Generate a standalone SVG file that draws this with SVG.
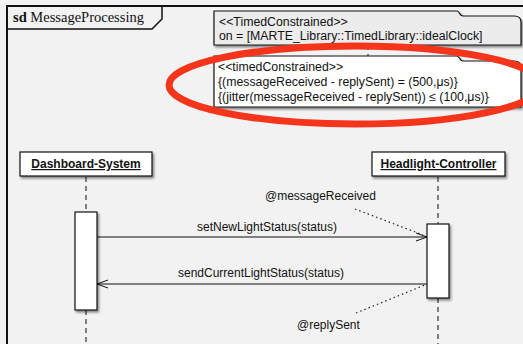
<svg xmlns="http://www.w3.org/2000/svg" width="523" height="344" viewBox="0 0 523 344">
<defs>
<filter id="sh" x="-10%" y="-20%" width="130%" height="160%">
<feDropShadow dx="1.5" dy="2" stdDeviation="1.2" flood-color="#000" flood-opacity="0.45"/>
</filter>
<marker id="open" viewBox="0 0 12 10" refX="11" refY="5" markerWidth="12" markerHeight="10" markerUnits="userSpaceOnUse" orient="auto">
<path d="M0,1 L11,5 L0,9" fill="none" stroke="#111" stroke-width="1"/>
</marker>
</defs>
<style>
text{font-family:"Liberation Sans",Arial,sans-serif;font-size:12px;fill:#111}
.nt{font-size:12.3px}
.hd{font-weight:bold;text-decoration:underline;text-anchor:middle}
.box{fill:#fff;stroke:#111;stroke-width:1.2}
.life{stroke:#333;stroke-width:1.2;stroke-dasharray:5,4;fill:none}
.msg{stroke:#111;stroke-width:1.2;fill:none}
.dot{stroke:#222;stroke-width:1.2;stroke-dasharray:1.5,3;fill:none}
.note{stroke:#111;stroke-width:1.2}
</style>
<rect width="523" height="344" fill="#f2f2f2"/>
<g id="frame">
<path d="M7,344 V6 H523" fill="none" stroke="#111" stroke-width="2"/>
<path d="M7,29 H152 L162,19 V6" fill="none" stroke="#111" stroke-width="1.5"/>
<text x="13" y="22" style="font-family:'Liberation Serif','Times New Roman',serif;font-size:14.5px"><tspan font-weight="bold">sd</tspan> MessageProcessing</text>
</g>
<g id="connectors">
<line class="life" x1="368" y1="45" x2="368" y2="56"/>
<line class="life" x1="86" y1="177" x2="86" y2="212"/>
<line class="life" x1="86" y1="310" x2="86" y2="344"/>
<line class="life" x1="438" y1="177" x2="438" y2="224"/>
<line class="life" x1="438" y1="298" x2="438" y2="344"/>
<line class="msg" x1="97" y1="237" x2="427" y2="237" stroke="#444" marker-end="url(#open)"/>
<line class="msg" x1="427" y1="284" x2="97" y2="284" marker-end="url(#open)"/>
<line class="dot" x1="355" y1="209" x2="423" y2="235"/>
<line class="dot" x1="356" y1="313" x2="425" y2="285"/>
</g>
<g id="note1">
<path class="note" d="M214,11 H457 C460,11 459,16 463,16 H514 C518,16 521,18 521,22 V45 H214 Z" fill="#ececec" filter="url(#sh)"/>
<text class="nt" x="219" y="26">&lt;&lt;TimedConstrained&gt;&gt;</text>
<text class="nt" x="219" y="40">on = [MARTE_Library::TimedLibrary::idealClock]</text>
</g>
<g id="note2">
<path class="note" d="M214,56 H457 C460,56 459,61 463,61 H514 C518,61 521,63 521,67 V107 H214 Z" fill="#fff" filter="url(#sh)"/>
<text class="nt" x="218" y="71">&lt;&lt;timedConstrained&gt;&gt;</text>
<text class="nt" x="218" y="86">{(messageReceived - replySent) = (500,μs)}</text>
<text class="nt" x="218" y="101">{(jitter(messageReceived - replySent)) ≤ (100,μs)}</text>
</g>
<g id="highlight">
<ellipse cx="355" cy="85" rx="186" ry="39" fill="none" stroke="#f5341c" stroke-width="7"/>
</g>
<g id="dashboard">
<rect class="box" x="20" y="152" width="132" height="24" filter="url(#sh)"/>
<text class="hd" x="86" y="168">Dashboard-System</text>
<rect class="box" x="75" y="212" width="22" height="98" filter="url(#sh)"/>
</g>
<g id="headlight">
<rect class="box" x="372" y="152" width="133" height="24" filter="url(#sh)"/>
<text class="hd" x="438.5" y="168">Headlight-Controller</text>
<rect class="box" x="427" y="224" width="22" height="74" filter="url(#sh)"/>
</g>
<g id="labels">
<text x="267" y="231" text-anchor="middle">setNewLightStatus(status)</text>
<text x="261" y="277" text-anchor="middle">sendCurrentLightStatus(status)</text>
<text x="265" y="200">@messageReceived</text>
<text x="297" y="329">@replySent</text>
</g>
</svg>
